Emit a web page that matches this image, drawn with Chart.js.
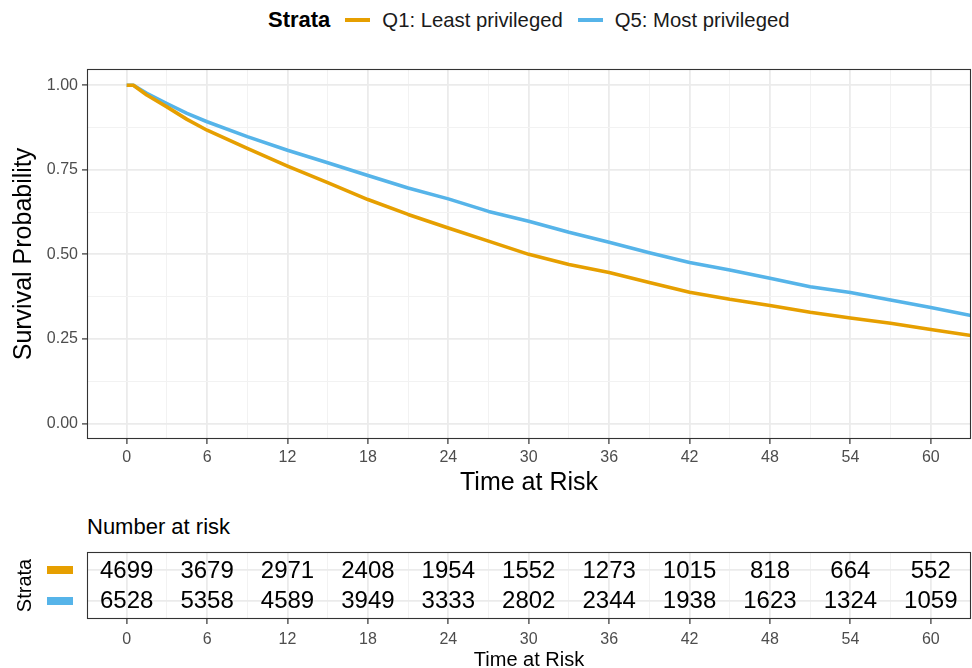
<!DOCTYPE html>
<html>
<head>
<meta charset="utf-8">
<title>Survival by strata</title>
<script src="https://cdn.jsdelivr.net/npm/chart.js@4/dist/chart.umd.min.js"></script>
<style>
  html, body { margin: 0; padding: 0; background: #fff; }
  body { width: 972px; height: 668px; position: relative; overflow: hidden;
         font-family: "Liberation Sans", Arial, sans-serif; }
  #legend { position: absolute; left: 268px; top: 8px; height: 24px;
            display: flex; align-items: center; font-size: 20.3px; color: #1a1a1a; }
  #legend b { font-size: 22px; color: #000; margin-right: 15px; }
  #legend .sw { width: 25px; height: 4px; margin-right: 12px; }
  #legend .lbl { margin-right: 15px; }
  #riskTitle { position: absolute; left: 87px; top: 513px; font-size: 22px;
               line-height: 28px; color: #000; }
  canvas { position: absolute; left: 0; }
  #km { top: 0; }
  #risk { top: 500px; }
</style>
</head>
<body>
<div id="legend">
  <b>Strata</b>
  <span class="sw" style="background:#E69F00"></span><span class="lbl">Q1: Least privileged</span>
  <span class="sw" style="background:#56B4E9"></span><span class="lbl">Q5: Most privileged</span>
</div>
<canvas id="km" width="972" height="500"></canvas>
<div id="riskTitle">Number at risk</div>
<canvas id="risk" width="972" height="168"></canvas>

<script>
/* ---- Data ---- */
const strataNames = ["Q1: Least privileged", "Q5: Most privileged"];
const strataColors = ["#E69F00", "#56B4E9"];

const kmTimes = [0, 0.5, 1.5, 3, 4.5, 6, 9, 12, 15, 18, 21, 24, 27, 30, 33, 36, 39, 42, 45, 48, 51, 54, 57, 60, 63];
const q1Surv = [1.000, 1.000, 0.971, 0.936, 0.899, 0.867, 0.813, 0.761, 0.712, 0.662, 0.618, 0.578, 0.539, 0.500,
                0.470, 0.446, 0.417, 0.388, 0.367, 0.349, 0.329, 0.312, 0.296, 0.278, 0.260];
const q5Surv = [1.000, 1.000, 0.976, 0.946, 0.917, 0.892, 0.848, 0.808, 0.771, 0.733, 0.696, 0.664, 0.627, 0.598,
                0.565, 0.536, 0.505, 0.476, 0.454, 0.429, 0.404, 0.387, 0.365, 0.343, 0.319];

const riskTimes = [0, 6, 12, 18, 24, 30, 36, 42, 48, 54, 60];
const q1Risk = [4699, 3679, 2971, 2408, 1954, 1552, 1273, 1015, 818, 664, 552];
const q5Risk = [6528, 5358, 4589, 3949, 3333, 2802, 2344, 1938, 1623, 1324, 1059];

const timeBreaks = [0, 6, 12, 18, 24, 30, 36, 42, 48, 54, 60];
const timeTickLabels = ["0", "6", "12", "18", "24", "30", "36", "42", "48", "54", "60"];
const survBreaks = [0, 0.25, 0.5, 0.75, 1];
const survTickLabels = ["0.00", "0.25", "0.50", "0.75", "1.00"];

/* ---- Shared defaults ---- */
Chart.defaults.font.family = '"Liberation Sans", Arial, sans-serif';
Chart.defaults.animation = false;

const GRID_MAJOR = "#EBEBEB";
const GRID_MINOR = "#F2F2F2";
const TICK_COLOR = "#4D4D4D";

// major breaks plus the ggplot-style minor breaks halfway between them
function withMinor(breaks) {
  const out = [];
  breaks.forEach((b, i) => {
    out.push(b);
    if (i < breaks.length - 1) out.push((b + breaks[i + 1]) / 2);
  });
  return out;
}
const isMajor = (breaks, v) => breaks.some((b) => Math.abs(b - v) < 1e-9);
const labelFor = (breaks, labels, v) => {
  const i = breaks.findIndex((b) => Math.abs(b - v) < 1e-9);
  return i >= 0 ? labels[i] : "";
};

function gridOpts(breaks, showTicks) {
  return {
    color: (c) => (c.tick && isMajor(breaks, c.tick.value) ? GRID_MAJOR : GRID_MINOR),
    lineWidth: (c) => (c.tick && isMajor(breaks, c.tick.value) ? 1.8 : 1),
    drawTicks: showTicks,
    tickLength: 5,
    tickWidth: 1.2,
    tickColor: (c) => (c.tick && isMajor(breaks, c.tick.value) ? "#333333" : "rgba(0,0,0,0)"),
  };
}

const timeAxis = (titleSize, titleLH, titlePad, tickPad, height) => ({
  type: "linear",
  min: -2.96,
  max: 63.0,
  afterBuildTicks: (s) => { s.ticks = withMinor(timeBreaks).map((v) => ({ value: v })); },
  afterFit: (s) => { s.height = height; },
  grid: gridOpts(timeBreaks, true),
  border: { display: false },
  ticks: {
    autoSkip: false,
    maxRotation: 0,
    padding: tickPad,
    color: TICK_COLOR,
    font: { size: 16 },
    callback: (v) => labelFor(timeBreaks, timeTickLabels, v),
  },
  title: {
    display: true,
    text: "Time at Risk",
    color: "#000",
    font: { size: titleSize, lineHeight: titleLH },
    padding: { top: 0, bottom: titlePad },
  },
});

const framePlugin = {
  id: "frame",
  afterDraw(chart) {
    const { ctx, chartArea: a } = chart;
    ctx.save();
    ctx.strokeStyle = "#333333";
    ctx.lineWidth = 1.1;
    ctx.strokeRect(a.left + 0.5, a.top + 0.5, a.right - a.left - 1, a.bottom - a.top - 1);
    ctx.restore();
  },
};

/* ---- Survival curves ---- */
const pts = (ys) => kmTimes.map((t, i) => ({ x: t, y: ys[i] }));

new Chart(document.getElementById("km"), {
  type: "line",
  data: {
    datasets: [
      { label: strataNames[0], data: pts(q1Surv), borderColor: strataColors[0] },
      { label: strataNames[1], data: pts(q5Surv), borderColor: strataColors[1] },
    ].map((d) => ({ ...d, borderWidth: 3.6, pointRadius: 0, tension: 0, fill: false, borderJoinStyle: "round" })),
  },
  options: {
    responsive: false,
    layout: { padding: { top: 69, right: 1, left: 0, bottom: 0 } },
    plugins: { legend: { display: false }, tooltip: { enabled: false } },
    scales: {
      x: timeAxis(25, 1.2, 2, 4, 61),
      y: {
        type: "linear",
        min: -0.046,
        max: 1.048,
        afterBuildTicks: (s) => { s.ticks = withMinor(survBreaks).map((v) => ({ value: v })); },
        afterFit: (s) => { s.width = 87; },
        grid: gridOpts(survBreaks, true),
        border: { display: false },
        ticks: {
          autoSkip: false,
          padding: 4,
          color: TICK_COLOR,
          font: { size: 16 },
          callback: (v) => labelFor(survBreaks, survTickLabels, v),
        },
        title: {
          display: true,
          text: "Survival Probability",
          color: "#000",
          font: { size: 25, lineHeight: 1.2 },
          padding: { top: 9, bottom: 0 },
        },
      },
    },
  },
  plugins: [framePlugin],
});

/* ---- Number at risk table ---- */
const riskRows = [
  { row: 2, counts: q1Risk, color: strataColors[0] },
  { row: 1, counts: q5Risk, color: strataColors[1] },
];

const riskTextPlugin = {
  id: "riskText",
  afterDraw(chart) {
    const { ctx, scales: { x, y } } = chart;
    ctx.save();
    ctx.font = '24px "Liberation Sans", Arial, sans-serif';
    ctx.textAlign = "center";
    ctx.textBaseline = "middle";
    riskRows.forEach((r) => {
      const py = y.getPixelForValue(r.row);
      ctx.fillStyle = "#000";
      riskTimes.forEach((t, i) => ctx.fillText(String(r.counts[i]), x.getPixelForValue(t), py + 1));
      // strata key swatch left of the table
      ctx.fillStyle = r.color;
      ctx.fillRect(47, Math.round(py) - 4, 26, 8);
    });
    ctx.restore();
  },
};

new Chart(document.getElementById("risk"), {
  type: "scatter",
  data: { datasets: [] },
  options: {
    responsive: false,
    layout: { padding: { top: 52, right: 1, left: 0, bottom: 0 } },
    plugins: { legend: { display: false }, tooltip: { enabled: false } },
    scales: {
      x: timeAxis(20, 0.8, 0, 6, 49),
      y: {
        type: "linear",
        min: 0.4,
        max: 2.6,
        afterBuildTicks: (s) => { s.ticks = riskRows.map((r) => ({ value: r.row })); },
        afterFit: (s) => { s.width = 87; },
        grid: { color: GRID_MAJOR, lineWidth: 1.8, drawTicks: false },
        border: { display: false },
        ticks: { display: false },
        title: {
          display: true,
          text: "Strata",
          color: "#000",
          font: { size: 20, lineHeight: 1.2 },
          padding: { top: 13, bottom: 0 },
        },
      },
    },
  },
  plugins: [framePlugin, riskTextPlugin],
});
</script>
</body>
</html>
